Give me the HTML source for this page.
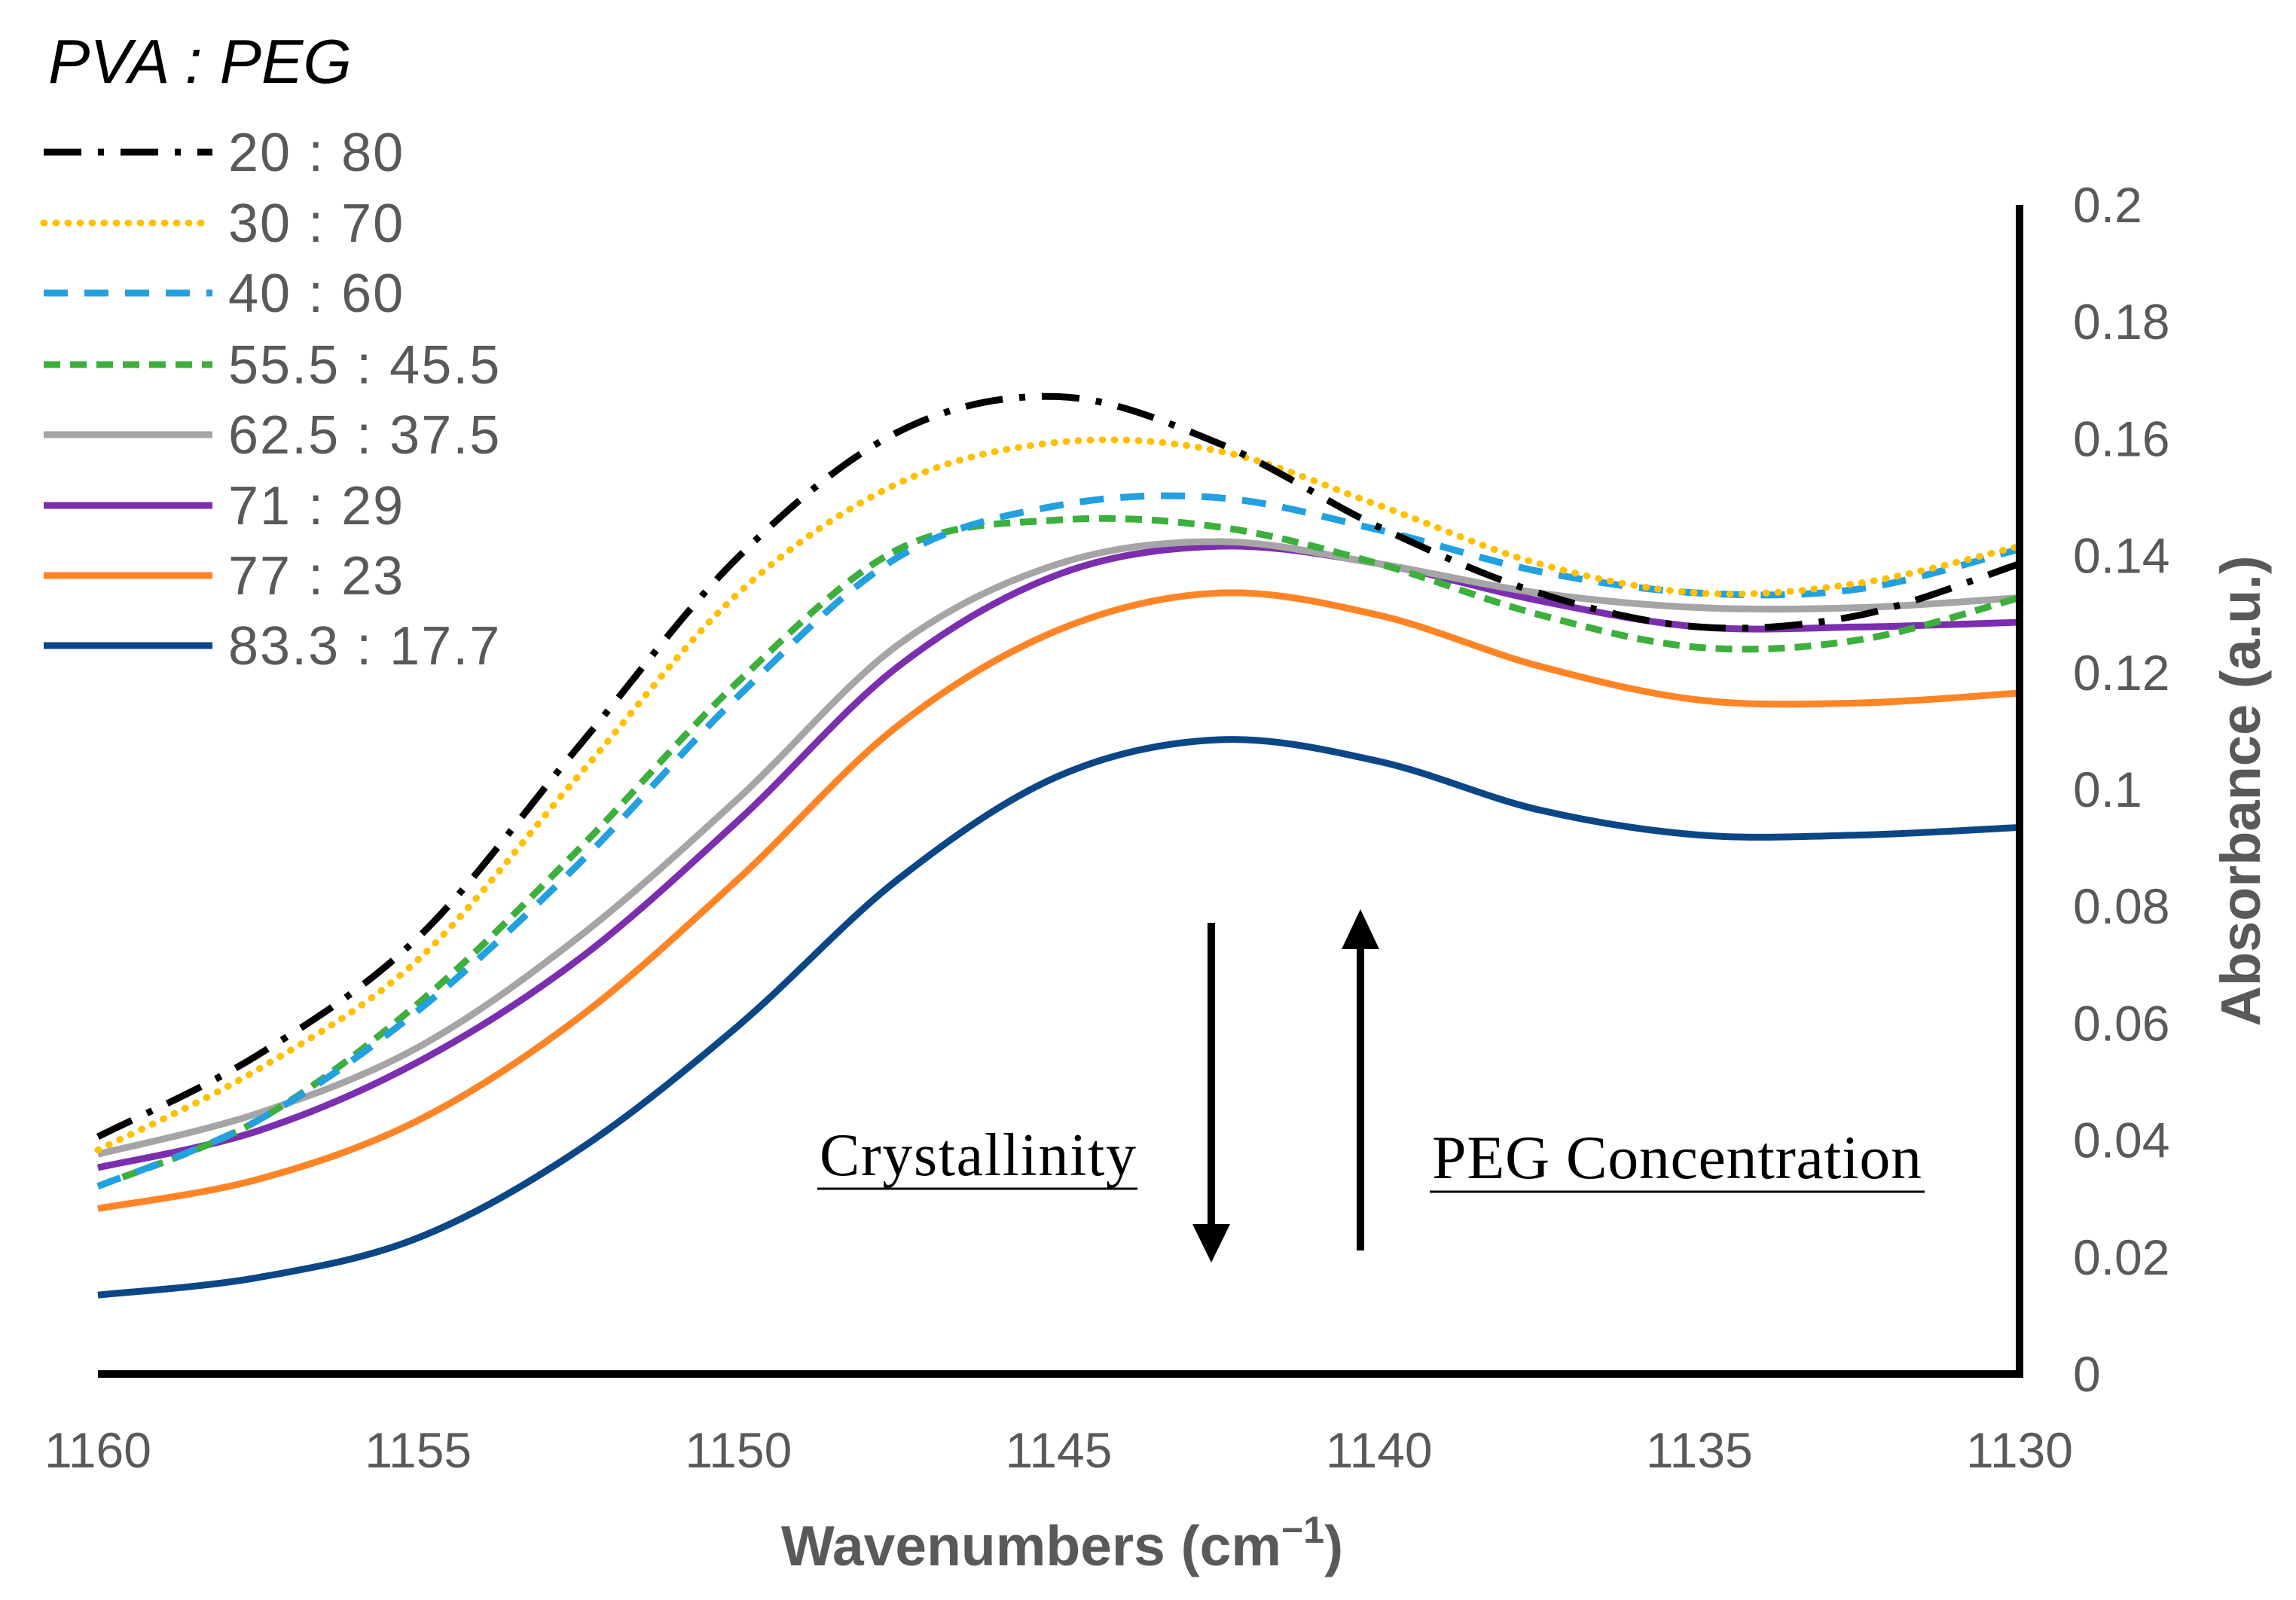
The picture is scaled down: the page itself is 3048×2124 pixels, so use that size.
<!DOCTYPE html>
<html><head><meta charset="utf-8"><style>
html,body{margin:0;padding:0;background:#fff;}
svg{display:block;}
</style></head><body>
<svg id="chart" width="3048" height="2124" viewBox="0 0 3048 2124" xmlns="http://www.w3.org/2000/svg">
<g id="plot"></g>
<g id="axes"></g>
<g id="legend"></g>
<g>
<text x="1298" y="1560" font-family="Liberation Serif, serif" font-size="80" text-anchor="middle" fill="#000" textLength="420">Crystallinity</text>
<line x1="1085" y1="1578" x2="1510" y2="1578" stroke="#000" stroke-width="3"/>
<text x="2226" y="1564" font-family="Liberation Serif, serif" font-size="82" text-anchor="middle" fill="#000" textLength="650">PEG Concentration</text>
<line x1="1898" y1="1582" x2="2555" y2="1582" stroke="#000" stroke-width="3"/>
<line x1="1608" y1="1225" x2="1608" y2="1630" stroke="#000" stroke-width="10"/>
<polygon points="1583,1625 1633,1625 1608,1676" fill="#000"/>
<line x1="1806" y1="1660" x2="1806" y2="1255" stroke="#000" stroke-width="10"/>
<polygon points="1781,1260 1831,1260 1806,1207" fill="#000"/>
</g>
</svg>
<script>
const wavenumbers = [1160,1157.5,1155,1152.5,1150,1147.5,1145,1142.5,1140,1137.5,1135,1132.5,1130];
const seriesNames = ["20 : 80","30 : 70","40 : 60","55.5 : 45.5","62.5 : 37.5","71 : 29","77 : 23","83.3 : 17.7"];
const s2080 = [.0406,.0546,.0747,.1073,.1398,.1612,.1672,.1592,.1449,.1336,.1278,.1298,.1386];
const s3070 = [.0383,.0521,.0709,.1023,.1336,.1524,.1594,.1579,.1486,.1386,.1336,.1353,.1416];
const s4060 = [.0321,.0434,.0622,.0872,.1160,.1398,.1486,.1499,.1444,.1373,.1336,.1343,.1411];
const s5545 = [.0321,.0434,.0634,.0897,.1185,.1411,.1461,.1449,.1386,.1299,.1243,.1256,.1328];
const s6237 = [.0376,.0446,.0559,.0747,.0985,.1248,.1386,.1424,.1386,.1336,.1311,.1311,.1328];
const s7129 = [.0353,.0416,.0534,.0709,.0947,.1211,.1368,.1416,.1386,.1323,.1278,.1278,.1286];
const s7723 = [.0283,.0333,.0434,.0609,.0847,.1110,.1273,.1336,.1298,.1211,.1153,.1148,.1165];
const s8317 = [.0135,.0165,.0233,.0383,.0596,.0847,.1023,.1085,.1048,.0965,.0922,.0922,.0935];
const yTicks = [0,0.02,0.04,0.06,0.08,0.1,0.12,0.14,0.16,0.18,0.2];
const yTickLabels = ["0","0.02","0.04","0.06","0.08","0.1","0.12","0.14","0.16","0.18","0.2"];
const xTicks = [1160,1155,1150,1145,1140,1135,1130];

const NS="http://www.w3.org/2000/svg";
const X0=130,X1=2681,Y0=1824,Y1=272;
const xs=w=>X0+(1160-w)/30*(X1-X0);
const ys=v=>Y0-v/0.2*(Y0-Y1);
const styles=[
 {c:"#000",d:"50,22,8,22",cap:"butt"},
 {c:"#FFC000",d:"1,15",cap:"round"},
 {c:"#22A0E0",d:"32,22",cap:"butt"},
 {c:"#3CAF3C",d:"22,13",cap:"butt"},
 {c:"#A5A5A5",d:"",cap:"butt"},
 {c:"#7B2FAF",d:"",cap:"butt"},
 {c:"#FF8426",d:"",cap:"butt"},
 {c:"#0B4786",d:"",cap:"butt"}];
const allSeries=[s2080,s3070,s4060,s5545,s6237,s7129,s7723,s8317];
function mk(tag,attrs,parent){const e=document.createElementNS(NS,tag);for(const k in attrs)e.setAttribute(k,attrs[k]);parent.appendChild(e);return e;}
function pathFor(vals){
 const p=vals.map((v,i)=>[xs(wavenumbers[i]),ys(v)]);
 let d=`M${p[0][0]},${p[0][1]}`;
 for(let i=0;i<p.length-1;i++){
  const a=p[Math.max(0,i-1)],b=p[i],c=p[i+1],e=p[Math.min(p.length-1,i+2)];
  const c1=[b[0]+(c[0]-a[0])/6,b[1]+(c[1]-a[1])/6],c2=[c[0]-(e[0]-b[0])/6,c[1]-(e[1]-b[1])/6];
  d+=` C${c1[0]},${c1[1]} ${c2[0]},${c2[1]} ${c[0]},${c[1]}`;
 }
 return d;
}
const plot=document.getElementById('plot');
for(let i=allSeries.length-1;i>=0;i--){
 const st=styles[i];
 const el=mk('path',{d:pathFor(allSeries[i]),fill:"none",stroke:st.c,"stroke-width":9,"stroke-dasharray":st.d,"stroke-linecap":st.cap},plot);
 
 
}
const axes=document.getElementById('axes');
const xa=mk('line',{x1:X0,y1:Y0,x2:X1+5,y2:Y0,stroke:"#000","stroke-width":10},axes);


const ya=mk('line',{x1:X1,y1:Y1,x2:X1,y2:Y0+5,stroke:"#000","stroke-width":10},axes);


yTicks.forEach((t,i)=>{
 const el=mk('text',{x:2752,y:ys(t)+23,"font-family":"Liberation Sans, sans-serif","font-size":66,fill:"#595959"},axes);
 el.textContent=yTickLabels[i];
 
 
});
xTicks.forEach(t=>{
 const el=mk('text',{x:xs(t),y:1948,"font-family":"Liberation Sans, sans-serif","font-size":66,fill:"#595959","text-anchor":"middle"},axes);
 el.textContent=String(t);
 
 
});
const xt=mk('text',{x:1410,y:2078,"font-family":"Liberation Sans, sans-serif","font-size":75,"font-weight":"bold",fill:"#595959","text-anchor":"middle"},axes);
xt.innerHTML='Wavenumbers (cm<tspan dy="-30" font-size="50">−1</tspan><tspan dy="30">)</tspan>';


const yt=mk('text',{x:0,y:0,transform:"translate(3000,1050) rotate(-90)","font-family":"Liberation Sans, sans-serif","font-size":74,"font-weight":"bold",fill:"#595959","text-anchor":"middle"},axes);
yt.textContent='Absorbance (a.u.)';


const lg=document.getElementById('legend');
const lt=mk('text',{x:64,y:110,"font-family":"Liberation Sans, sans-serif","font-size":83,"font-style":"italic",fill:"#000"},lg);
lt.textContent='PVA : PEG';


const legY=[202,296,389,484,577,671,764,857];
seriesNames.forEach((n,i)=>{
 const st=styles[i];
 const ln=mk('line',{x1:58,y1:legY[i],x2:282,y2:legY[i],stroke:st.c,"stroke-width":9,"stroke-dasharray":st.d,"stroke-linecap":st.cap},lg);
 
 
 const tx=mk('text',{x:303,y:legY[i]+25,"font-family":"Liberation Sans, sans-serif","font-size":72,"letter-spacing":"2",fill:"#595959"},lg);
 tx.textContent=n;
 
 
});
</script>
</body></html>
